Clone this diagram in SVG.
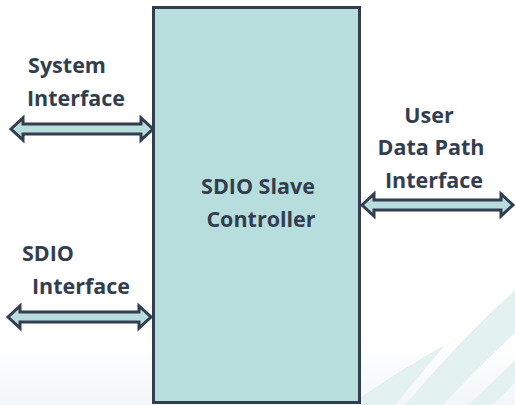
<svg xmlns="http://www.w3.org/2000/svg" width="515" height="405" viewBox="0 0 515 405">
  <defs>
    <linearGradient id="floor" x1="0" y1="0" x2="0" y2="1">
      <stop offset="0" stop-color="#ffffff"/>
      <stop offset="1" stop-color="#f3f6f9"/>
    </linearGradient>
    <style>
      .block { fill: #b7dedd; stroke: #323e4f; stroke-width: 3; }
      .port { fill: #b7dedd; stroke: #323e4f; stroke-width: 3; stroke-linejoin: miter; }
      .label { font-family: "Open Sans", "Liberation Sans", sans-serif; font-weight: bold; font-size: 21.5px; fill: #323e4f; text-anchor: middle; }
      .swoosh { fill: #e3f2f1; }
    </style>
  </defs>

  <!-- background -->
  <rect x="0" y="0" width="515" height="405" fill="#ffffff"/>
  <rect x="0" y="340" width="515" height="65" fill="url(#floor)"/>
  <g id="backdrop">
    <path class="swoosh" d="M360,398 Q400,370 445,345 Q420,375 395,405 L360,405 Z"/>
    <path class="swoosh" d="M405,405 Q460,340 515,290 L515,333 Q475,370 443,405 Z"/>
    <path class="swoosh" d="M468,405 Q495,380 515,360 L515,383 Q503,395 492,405 Z"/>
  </g>

  <!-- connectors: double-headed interface arrows -->
  <g id="connectors">
    <path id="sys-link" class="port" d="M11,129 L23,118 L23,124 L141,124 L141,118 L153,129 L141,140 L141,134 L23,134 L23,140 Z"/>
    <path id="sdio-link" class="port" d="M8,317 L20,306 L20,312 L139,312 L139,306 L151,317 L139,328 L139,322 L20,322 L20,328 Z"/>
    <path id="user-link" class="port" d="M362,205 L374,194 L374,200 L501,200 L501,194 L513,205 L501,216 L501,210 L374,210 L374,216 Z"/>
  </g>

  <g id="controller">
    <rect class="block" x="153.5" y="7.5" width="206" height="395"/>
    <text class="label" x="258" y="194">SDIO Slave</text>
    <text class="label" x="261" y="227">Controller</text>
  </g>

  <g id="system-interface">
    <text class="label" x="67" y="73">System</text>
    <text class="label" x="76" y="106">Interface</text>
  </g>

  <g id="sdio-interface">
    <text class="label" x="48" y="261">SDIO</text>
    <text class="label" x="81" y="294">Interface</text>
  </g>

  <g id="user-interface">
    <text class="label" x="429" y="123">User</text>
    <text class="label" x="431" y="155">Data Path</text>
    <text class="label" x="434" y="188">Interface</text>
  </g>
</svg>
